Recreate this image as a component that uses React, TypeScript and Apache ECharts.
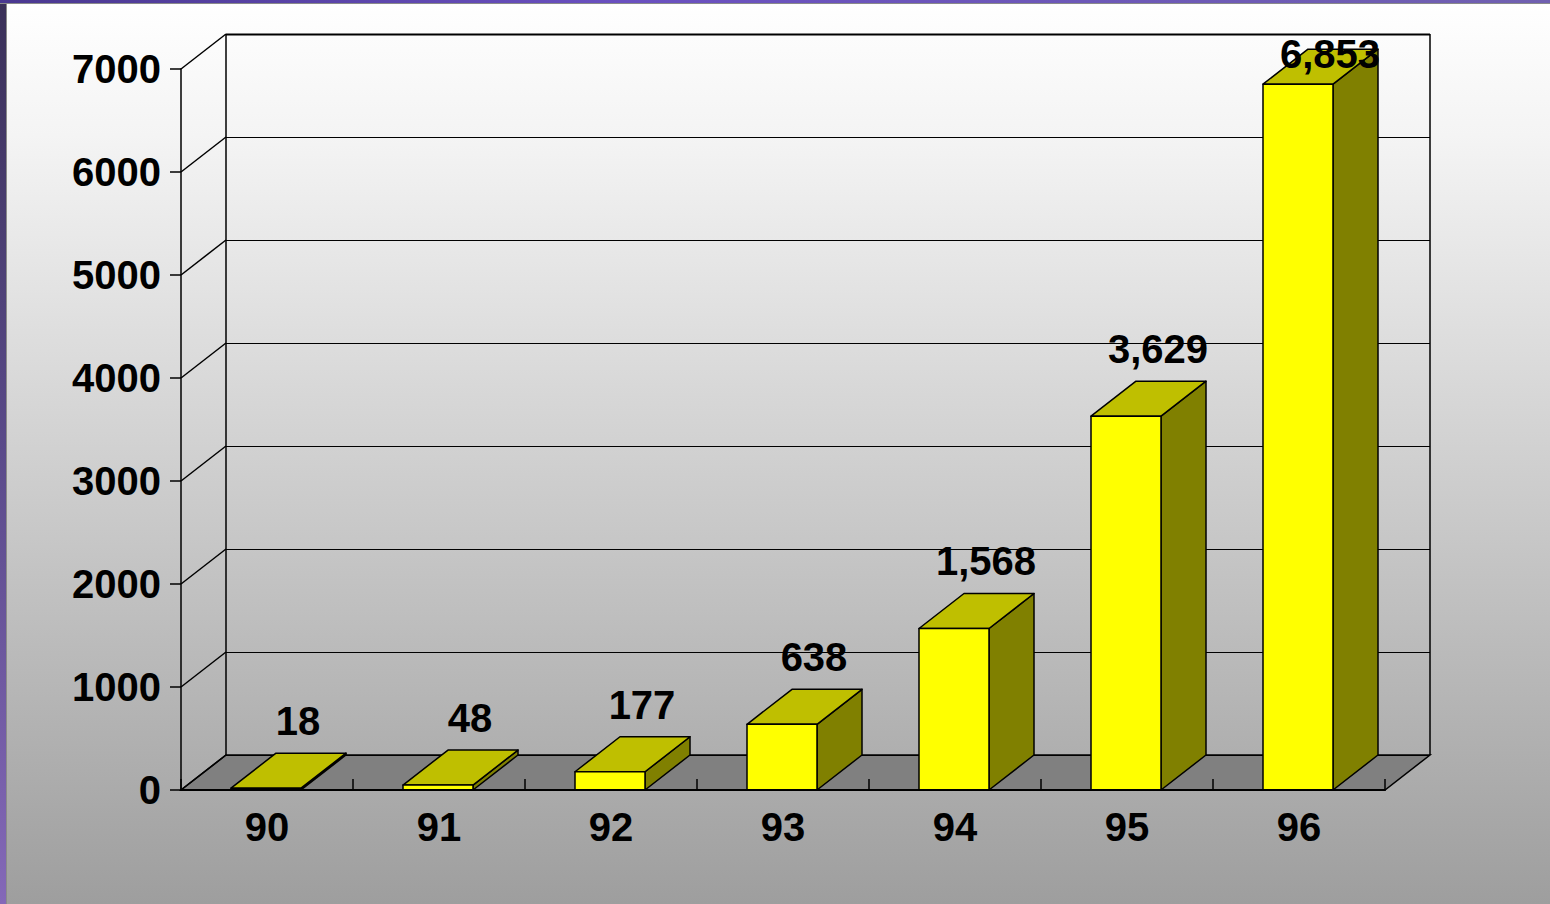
import React, { useEffect, useRef } from "react";
import * as echarts from "echarts";

const categories = ["90", "91", "92", "93", "94", "95", "96"];
const hosts = [18, 48, 177, 638, 1568, 3629, 6853];
const yTicks = [0, 1000, 2000, 3000, 4000, 5000, 6000, 7000];

const DX = 45;
const DY = -35;
const FONT = "'Liberation Sans', Arial, sans-serif";

export default function App() {
  const ref = useRef<HTMLDivElement>(null);
  useEffect(() => {
    document.body.style.margin = "0";
    const chart = echarts.init(ref.current!, null, { renderer: "svg" });
    const option: any = {
      animation: false,
      backgroundColor: "transparent",
      grid: { left: 181, right: 165, top: 69, bottom: 114, containLabel: false },
      xAxis: {
        type: "category",
        data: categories,
        boundaryGap: true,
        axisLine: { show: true, lineStyle: { color: "#000", width: 2 } },
        axisTick: { show: true, inside: true, length: 11, lineStyle: { color: "#000", width: 1.5 } },
        axisLabel: { color: "#000", fontSize: 40, fontWeight: "bold", fontFamily: FONT, margin: 17 },
        splitLine: { show: false },
        z: 5,
      },
      yAxis: {
        type: "value",
        min: 0,
        max: 7000,
        interval: 1000,
        axisLine: { show: true, lineStyle: { color: "#000", width: 1.5 } },
        axisTick: { show: true, inside: false, length: 11, lineStyle: { color: "#000", width: 1.5 } },
        axisLabel: {
          color: "#000",
          fontSize: 40,
          fontWeight: "bold",
          fontFamily: FONT,
          margin: 20,
          formatter: (v: number) => String(v),
        },
        splitLine: { show: false },
        z: 5,
      },
      series: [
        {
          type: "custom",
          z: 1,
          data: yTicks.map((v) => [0, v]),
          renderItem: (params: any, api: any) => {
            const v = api.value(1);
            const cs = params.coordSys;
            const x = cs.x;
            const w = cs.width;
            const y = api.coord([0, v])[1];
            const gy = Math.round(y + DY) + 0.5;
            const children: any[] = [];
            if (v === 0) {
              children.push({
                type: "polygon",
                shape: { points: [[x, y], [x + w, y], [x + w + DX, y + DY], [x + DX, y + DY]] },
                style: { fill: "#808080", stroke: "#000", lineWidth: 1.5 },
              });
            }
            children.push({
              type: "line",
              shape: { x1: x, y1: y, x2: x + DX, y2: y + DY },
              style: { stroke: "#000", lineWidth: 1.5 },
            });
            children.push({
              type: "line",
              shape: { x1: x + DX, y1: gy, x2: x + w + DX, y2: gy },
              style: { stroke: "#000", lineWidth: v === 7000 ? 2 : 1 },
            });
            if (v === 7000) {
              const yb = api.coord([0, 0])[1];
              children.push({
                type: "line",
                shape: { x1: x + DX, y1: y + DY, x2: x + DX, y2: yb + DY },
                style: { stroke: "#000", lineWidth: 1.5 },
              });
              children.push({
                type: "line",
                shape: { x1: x + w + DX, y1: y + DY, x2: x + w + DX, y2: yb + DY },
                style: { stroke: "#000", lineWidth: 1.5 },
              });
            }
            return { type: "group", children };
          },
        },
        {
          type: "custom",
          z: 3,
          data: hosts.map((v, i) => [i, v]),
          renderItem: (params: any, api: any) => {
            const i = api.value(0);
            const v = api.value(1);
            const [xc, yTop] = api.coord([i, v]);
            const y0 = api.coord([i, 0])[1];
            const band = api.size([1, 0])[0];
            const bw = band * 0.407;
            const x0 = xc - bw / 2 - 1;
            const x1 = xc + bw / 2 - 1;
            const stroke = { stroke: "#000", lineWidth: 1.5, lineJoin: "round" };
            const labelY = Math.max(yTop + DY - 32, 54);
            return {
              type: "group",
              children: [
                {
                  type: "polygon",
                  shape: { points: [[x1, yTop], [x1 + DX, yTop + DY], [x1 + DX, y0 + DY], [x1, y0]] },
                  style: { fill: "#808000", ...stroke },
                },
                {
                  type: "polygon",
                  shape: { points: [[x0, yTop], [x1, yTop], [x1 + DX, yTop + DY], [x0 + DX, yTop + DY]] },
                  style: { fill: "#BFBF00", ...stroke },
                },
                {
                  type: "rect",
                  shape: { x: x0, y: yTop, width: x1 - x0, height: y0 - yTop },
                  style: { fill: "#FFFF00", ...stroke },
                },
                {
                  type: "text",
                  x: xc + 31,
                  y: labelY,
                  style: {
                    text: v.toLocaleString("en-US"),
                    fill: "#000",
                    fontSize: 40,
                    fontWeight: "bold",
                    fontFamily: FONT,
                    align: "center",
                    verticalAlign: "middle",
                  },
                },
              ],
            };
          },
        },
      ],
    };
    chart.setOption(option);
    return () => chart.dispose();
  }, []);

  return (
    <div
      style={{
        position: "absolute",
        left: 0,
        top: 0,
        width: 1550,
        height: 904,
        overflow: "hidden",
        background: "linear-gradient(to bottom, #FFFFFF 0%, #F4F4F4 15%, #9E9E9E 100%)",
      }}
    >
      <div ref={ref} style={{ position: "absolute", left: 0, top: 0, width: 1550, height: 904 }} />
      <div
        style={{
          position: "absolute",
          left: 0,
          top: 0,
          width: 6,
          height: 904,
          background: "linear-gradient(to bottom, #3A3058 0%, #5A4A8A 50%, #8468B8 100%)",
          borderRight: "1px solid #8A8A8A",
        }}
      />
      <div
        style={{
          position: "absolute",
          left: 0,
          top: 0,
          width: 1550,
          height: 3,
          background: "linear-gradient(to right, #4A3890, #6A50C0 40%, #7060B0 100%)",
          borderBottom: "1px solid #8A8A8A",
        }}
      />
    </div>
  );
}
